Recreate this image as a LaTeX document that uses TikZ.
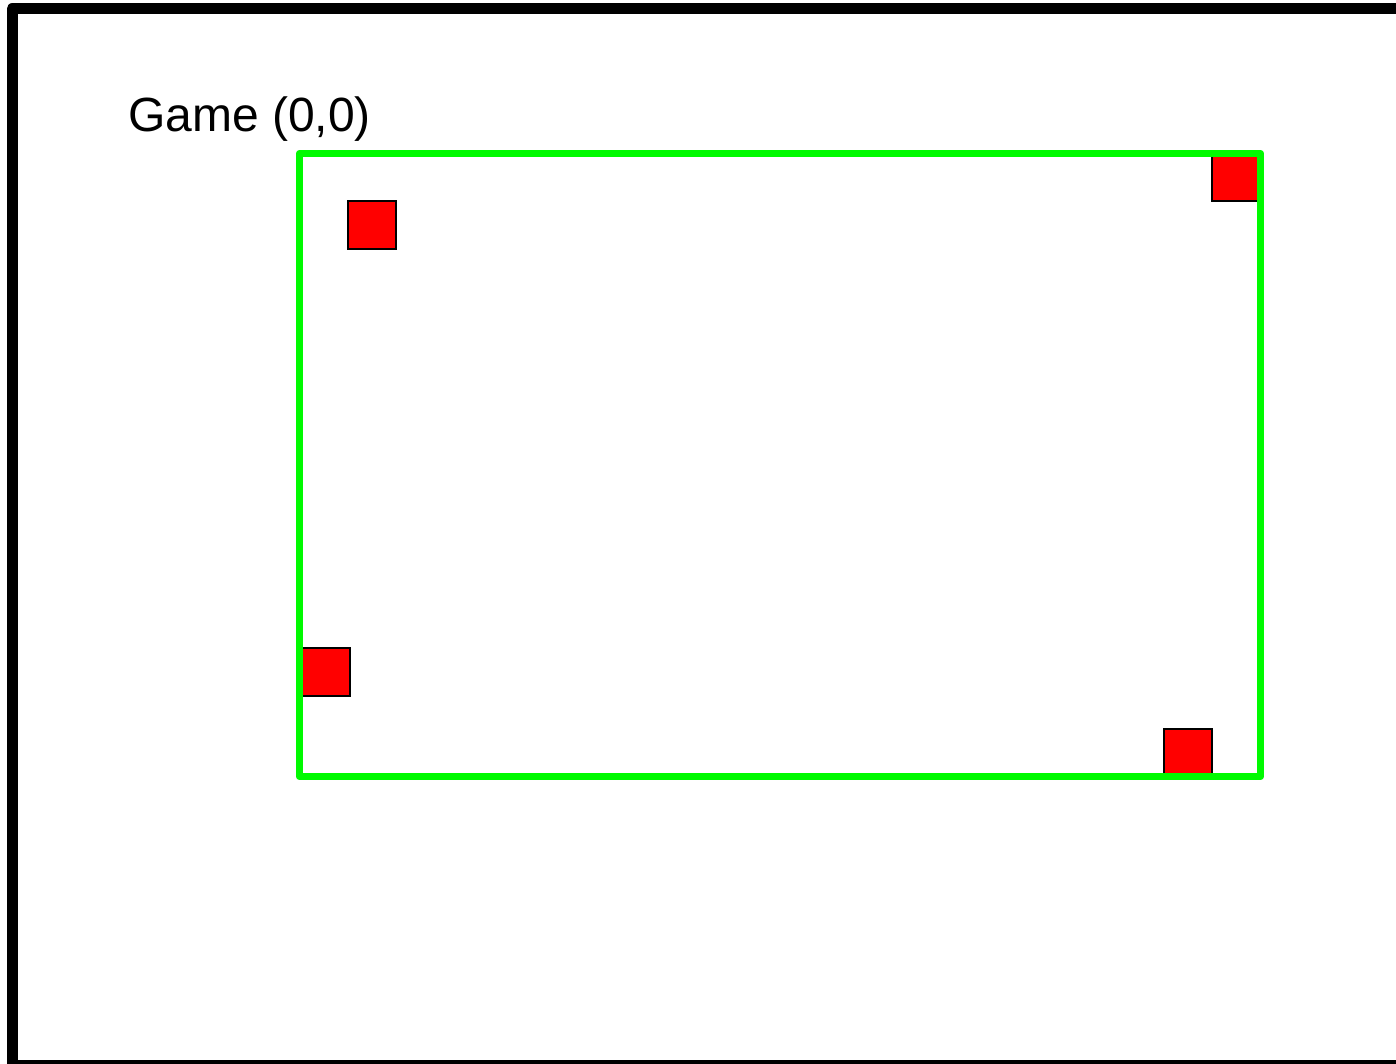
\documentclass[tikz,border=0pt]{standalone}
\usepackage{fontspec}
\setmainfont{Liberation Sans}
\begin{document}
\begin{tikzpicture}[x=1pt,y=-1pt,
  block/.style={draw=black,fill=red,line width=1.2pt,minimum size=48pt,inner sep=0pt,outer sep=0pt},
  frame/.style={draw=black,line width=11pt,line join=round},
  field/.style={draw={rgb,255:red,0;green,250;blue,0},line width=7.5pt,line join=round}]
\useasboundingbox (0,0) rectangle (1396,1064);
\fill[white] (0,0) rectangle (1396,1064);
\draw[frame] (12,9) rectangle (1420,1065);
\node[anchor=base west,inner sep=0pt,font=\fontsize{48}{58}\selectfont] (title) at (128,132) {Game (0,0)};
\node[block,anchor=north west] (b1) at (348,201) {};
\node[block,anchor=north west] (b2) at (1212,153) {};
\node[block,anchor=north west] (b3) at (302,648) {};
\node[block,anchor=north west] (b4) at (1164,729) {};
\draw[field] (299.5,153.5) rectangle (1260.5,776.5);
\end{tikzpicture}
\end{document}
